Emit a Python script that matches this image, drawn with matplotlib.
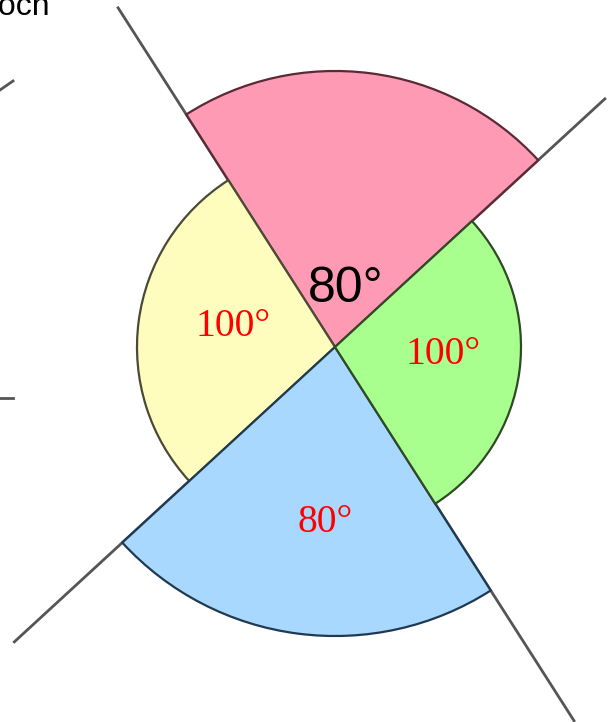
import matplotlib
matplotlib.use("Agg")
import matplotlib.pyplot as plt
from matplotlib.patches import Wedge
import numpy as np

# Data
angles = [80, 100, 80, 100]            # degrees of each sector, counter-clockwise
labels = ["80°", "100°", "80°", "100°"]
start_angle = 42.6                      # first sector (pink) starts here
radii = [276, 198, 289, 186]            # pink, yellow, blue, green
colors = ["#FF9AB4", "#FFFDBE", "#A9D8FF", "#A8FF8E"]
edge_colors = ["#5a2a35", "#4a4a35", "#1f3a50", "#2f4a25"]
label_colors = ["black", "red", "red", "red"]
label_fonts = ["Liberation Sans", "Liberation Serif", "Liberation Serif", "Liberation Serif"]
label_sizes = [36, 28.5, 28.5, 28.5]
label_pos = [(346, 289), (233, 327), (325, 522), (443, 354)]   # pixel (x, y from top)

W, H = 616, 722
cx, cy = 335, H - 347

fig = plt.figure(figsize=(W / 100, H / 100), dpi=100)
ax = fig.add_axes([0, 0, 1, 1])
ax.set_xlim(0, W)
ax.set_ylim(0, H)
ax.set_aspect("equal")
ax.axis("off")

# sectors
a0 = start_angle
for ang, r, fc, ec in zip(angles, radii, colors, edge_colors):
    w = Wedge((cx, cy), r, a0, a0 + ang, facecolor=fc, edgecolor=ec, linewidth=1.6, zorder=2)
    ax.add_patch(w)
    a0 += ang

# two crossing lines through the centre
line_angles = [start_angle, start_angle + angles[0]]
for la, (l_neg, l_pos) in zip(line_angles, [(437, 368), (445, 404)]):
    t = np.radians(la)
    ax.plot([cx - l_neg * np.cos(t), cx + l_pos * np.cos(t)],
            [cy - l_neg * np.sin(t), cy + l_pos * np.sin(t)],
            color="#555555", linewidth=2, zorder=1, solid_capstyle="butt")

# small fragments at the left edge
ax.plot([0, 13], [H - 90, H - 81], color="#555555", linewidth=2, zorder=1)
ax.plot([0, 13], [H - 398, H - 398], color="#555555", linewidth=2, zorder=1)

# labels
for lab, col, fam, size, (px, py) in zip(labels, label_colors, label_fonts, label_sizes, label_pos):
    ax.text(px, H - py, lab, color=col, family=fam, fontsize=size,
            ha="center", va="center", zorder=4)

# cut-off text at the top-left (cropped in the reference as well)
ax.text(-10, H - 15, "toch", family="Liberation Sans", fontsize=23,
        ha="left", va="baseline", color="black", zorder=4)

fig.savefig("out.png", dpi=100)
